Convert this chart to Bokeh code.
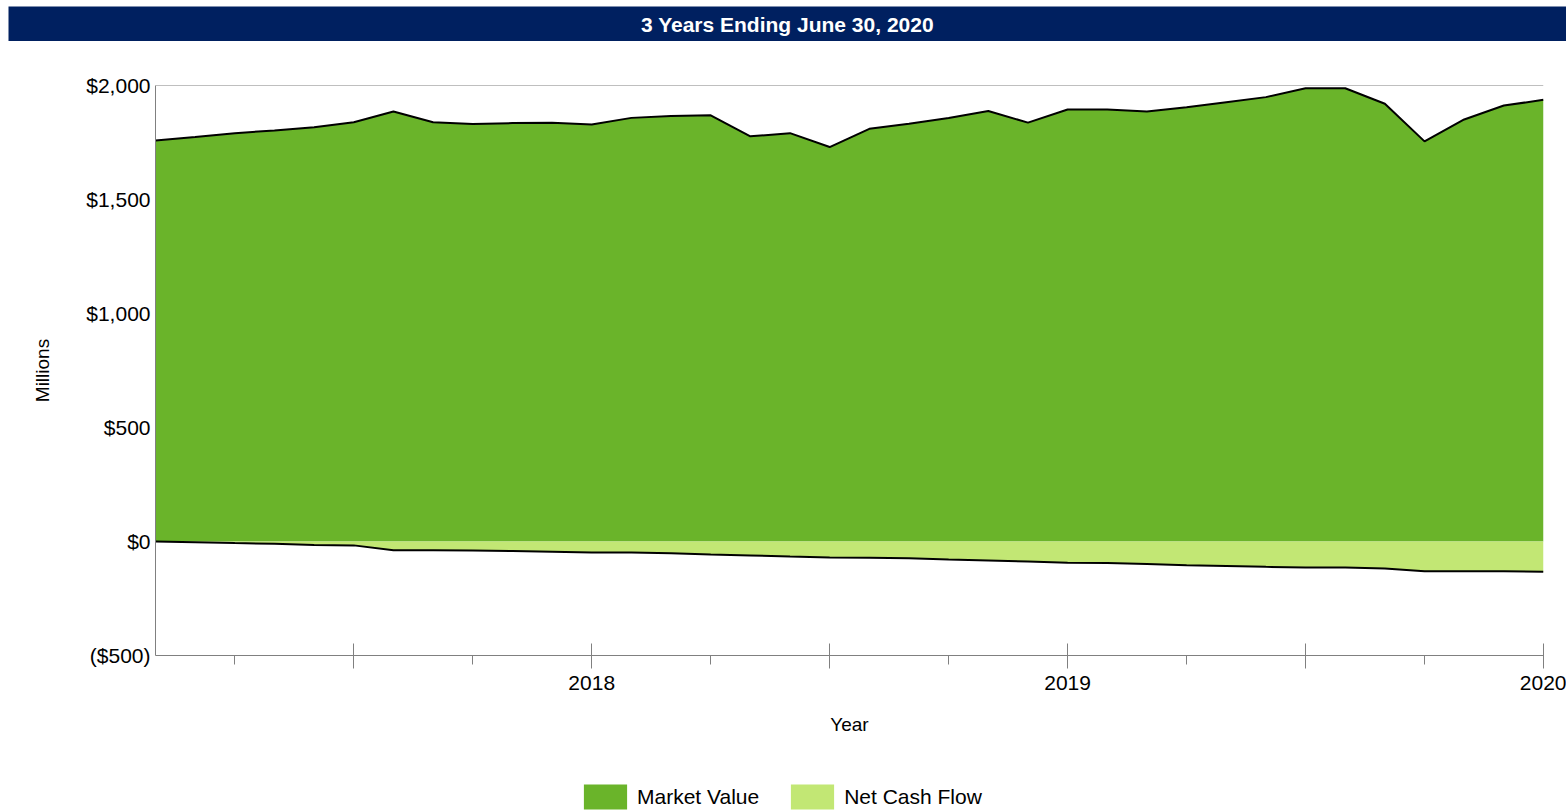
from bokeh.plotting import figure
from bokeh.layouts import column
from bokeh.models import (FixedTicker, Span, Label, Legend, LegendItem, Range1d)
from bokeh.embed import file_html
from bokeh.resources import INLINE

# ---------------- data ----------------
month_index = list(range(36))  # Jul 2017 ... Jun 2020 (monthly)
market_value = [1759, 1774, 1791, 1803, 1817, 1839, 1886, 1839, 1831, 1835,
                1837, 1829, 1858, 1866, 1869, 1777, 1791, 1730, 1810, 1832,
                1857, 1888, 1837, 1895, 1895, 1886, 1905, 1927, 1949, 1988,
                1988, 1920, 1755, 1851, 1912, 1937]
net_cash_flow = [0, -3, -7, -10, -15, -17, -38, -38, -39, -42,
                 -45, -48, -48, -52, -57, -61, -66, -70, -71, -74,
                 -79, -83, -88, -93, -94, -99, -104, -107, -111, -114,
                 -114, -118, -130, -130, -131, -133]
x_tick_positions = [5, 11, 17, 23, 29, 35]
x_tick_labels = ["", "2018", "", "2019", "", "2020"]
x_minor_ticks = [2, 8, 14, 20, 26, 32]
y_ticks = [-500, 0, 500, 1000, 1500, 2000]
y_tick_labels = ["($500)", "$0", "$500", "$1,000", "$1,500", "$2,000"]
series_names = ["Market Value", "Net Cash Flow"]
title_text = "3 Years Ending June 30, 2020"
x_axis_title = "Year"
y_axis_title = "Millions"

# ---------------- style ----------------
NAVY = "#002060"
DARK_GREEN = "#6AB42A"
LIGHT_GREEN = "#C2E774"
AXIS_GRAY = "#808080"
FONT = "Liberation Sans"


def no_frame_align(fig):
    if "frame_align" in fig.properties():
        fig.frame_align = False


# ---------------- title bar ----------------
t = figure(width=1566, height=41, x_range=(0, 1), y_range=(0, 1),
           output_backend="svg", toolbar_location=None,
           x_axis_location=None, y_axis_location=None,
           min_border_left=8, min_border_top=6, min_border_right=0,
           min_border_bottom=0, outline_line_color=None,
           background_fill_color=NAVY, border_fill_color="white")
t.grid.visible = False
no_frame_align(t)
t.add_layout(Label(x=0.5, y=0.5, text=title_text, text_align="center",
                   text_baseline="middle", text_color="white",
                   text_font_style="bold", text_font_size="21px",
                   text_font=FONT))

# ---------------- main chart ----------------
p = figure(width=1566, height=699,
           x_range=Range1d(0, 35), y_range=Range1d(-500, 2000),
           output_backend="svg", toolbar_location=None,
           min_border_left=155, min_border_right=23,
           min_border_top=44, min_border_bottom=85,
           outline_line_color=None, background_fill_color="white")
p.grid.visible = False
no_frame_align(p)

mv_area = p.varea(x=month_index, y1=0, y2=market_value, fill_color=DARK_GREEN)
ncf_area = p.varea(x=month_index, y1=0, y2=net_cash_flow, fill_color=LIGHT_GREEN)
p.line(x=month_index, y=market_value, line_color="black", line_width=2)
p.line(x=month_index, y=net_cash_flow, line_color="black", line_width=2)

p.add_layout(Span(location=2000, dimension="width", line_color=AXIS_GRAY, line_width=1))

# x axis
xa = p.xaxis[0]
xa.ticker = FixedTicker(ticks=x_tick_positions, minor_ticks=x_minor_ticks)
xa.major_label_overrides = {k: v for k, v in zip(x_tick_positions, x_tick_labels)}
xa.axis_line_color = AXIS_GRAY
xa.major_tick_line_color = AXIS_GRAY
xa.minor_tick_line_color = AXIS_GRAY
xa.major_tick_in = 12
xa.major_tick_out = 13
xa.minor_tick_in = 0
xa.minor_tick_out = 9
xa.major_label_text_font = FONT
xa.major_label_text_font_size = "21px"
xa.major_label_text_color = "black"
xa.major_label_standoff = 7
xa.axis_label = x_axis_title
xa.axis_label_text_font = FONT
xa.axis_label_text_font_size = "19px"
xa.axis_label_text_font_style = "normal"
xa.axis_label_text_color = "black"
xa.axis_label_standoff = 21

# y axis
ya = p.yaxis[0]
ya.ticker = FixedTicker(ticks=y_ticks)
ya.major_label_overrides = {k: v for k, v in zip(y_ticks, y_tick_labels)}
ya.axis_line_color = AXIS_GRAY
ya.major_tick_line_color = None
ya.minor_tick_line_color = None
ya.major_tick_in = 0
ya.major_tick_out = 0
ya.major_label_text_font = FONT
ya.major_label_text_font_size = "21px"
ya.major_label_text_color = "black"
ya.major_label_standoff = 5
ya.axis_label = y_axis_title
ya.axis_label_text_font = FONT
ya.axis_label_text_font_size = "19px"
ya.axis_label_text_font_style = "normal"
ya.axis_label_text_color = "black"
ya.axis_label_standoff = 30

# ---------------- legend strip ----------------
lg = figure(width=1566, height=71, x_range=(0, 1), y_range=(0, 1),
            output_backend="svg", toolbar_location=None,
            x_axis_location=None, y_axis_location=None,
            min_border=0, outline_line_color=None,
            background_fill_color="white", border_fill_color="white")
lg.grid.visible = False
no_frame_align(lg)
# zero-area key proxies (draw nothing themselves; used only for legend swatches)
mv_key = lg.varea(x=[0, 0], y1=[0, 0], y2=[0, 0], fill_color=DARK_GREEN)
ncf_key = lg.varea(x=[0, 0], y1=[0, 0], y2=[0, 0], fill_color=LIGHT_GREEN)

legend = Legend(items=[LegendItem(label=series_names[0], renderers=[mv_key]),
                       LegendItem(label=series_names[1], renderers=[ncf_key])],
                orientation="horizontal", location=(578, -1),
                border_line_color=None, background_fill_alpha=0,
                padding=0, margin=0, spacing=26,
                glyph_width=54, glyph_height=31, label_height=31,
                label_standoff=5, label_text_font=FONT,
                label_text_font_size="21px", label_text_color="black")
lg.add_layout(legend)

layout = column(t, p, lg, spacing=0)
open("out.html", "w").write(file_html(layout, INLINE))
